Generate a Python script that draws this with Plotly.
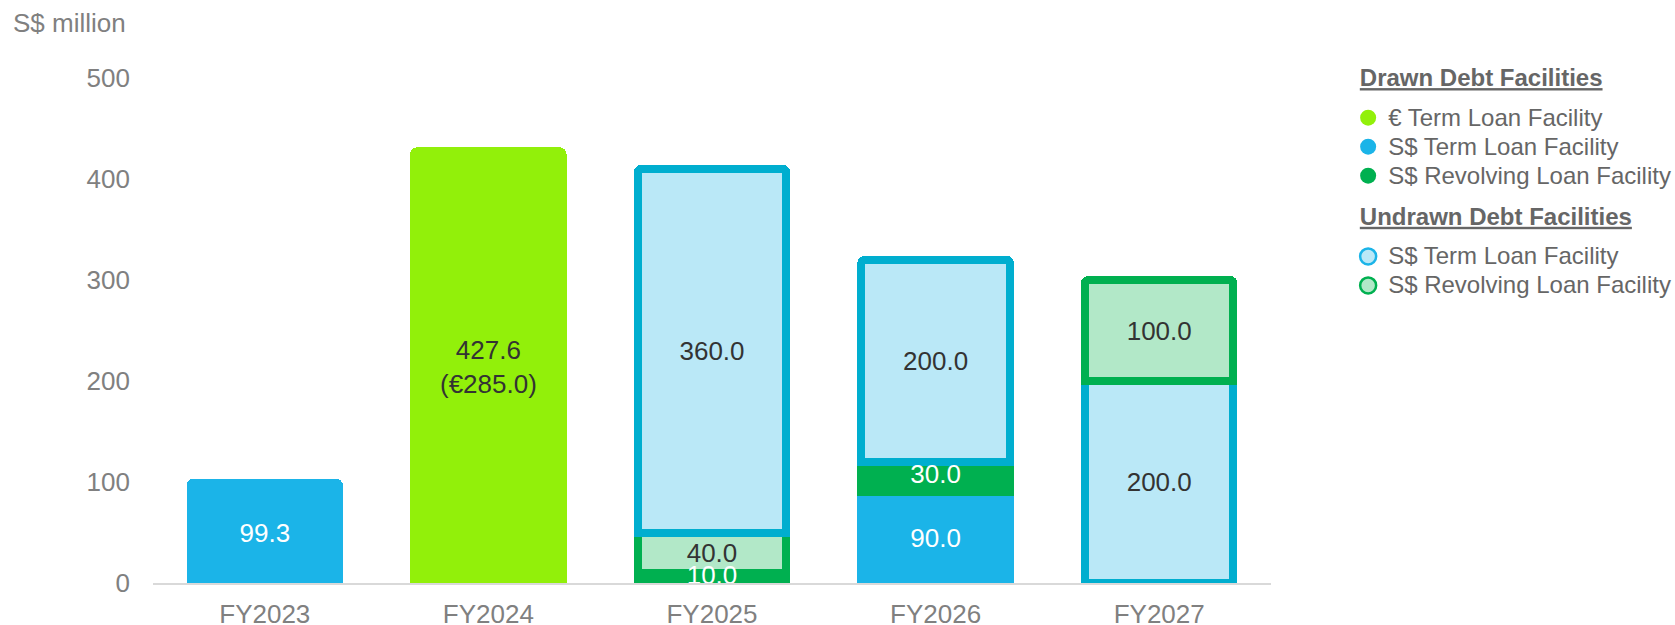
import plotly.graph_objects as go

categories = ["FY2023", "FY2024", "FY2025", "FY2026", "FY2027"]
drawn_eur_term = [None, 427.6, None, None, None]
eur_term_in_eur = [None, 285.0, None, None, None]
drawn_sgd_term = [99.3, None, None, 90.0, None]
drawn_sgd_rev = [None, None, 10.0, 30.0, None]
undrawn_sgd_term = [None, None, 360.0, 200.0, 200.0]
undrawn_sgd_rev = [None, None, 40.0, None, 100.0]
# undrawn revolving stacked below the undrawn term tranche in these years
rev_below_term_years = ["FY2025"]

FONT = "Liberation Sans, Arial, sans-serif"
C_EUR = "#92F00A"
C_SGD_TERM = "#1BB4E8"
C_REV = "#00B050"
C_UT_FILL = "#BAE8F7"
C_UT_LINE = "#00AECF"
C_UR_FILL = "#B2E8C8"
C_UR_LINE = "#00B050"
DARK = "#333333"
GREY = "#808080"
LEG = "#666666"

WO = 0.664
LW = 8


def fmt(v):
    return None if v is None else f"{v:.1f}"


def z(v):
    return 0 if v is None else v


fig = go.Figure()

eur_text = [None if v is None else f"{v:.1f}<br>(€{e:.1f})" for v, e in zip(drawn_eur_term, eur_term_in_eur)]

common = dict(textposition="inside", insidetextanchor="middle", constraintext="none",
              showlegend=False, hoverinfo="skip", cliponaxis=True)

fig.add_bar(x=categories, y=drawn_eur_term, text=eur_text, width=WO,
            marker=dict(color=C_EUR, line=dict(width=LW, color=C_EUR)),
            textfont=dict(color=DARK, size=26, family=FONT), **common)
fig.add_bar(x=categories, y=drawn_sgd_term, text=[fmt(v) for v in drawn_sgd_term], width=WO,
            marker=dict(color=C_SGD_TERM, line=dict(width=LW, color=C_SGD_TERM)),
            textfont=dict(color="white", size=26, family=FONT), **common)
fig.add_bar(x=categories, y=drawn_sgd_rev, width=WO,
            marker=dict(color=C_REV, line=dict(width=LW, color=C_REV)),
            showlegend=False, hoverinfo="skip")

rev_below = [v if c in rev_below_term_years else None for c, v in zip(categories, undrawn_sgd_rev)]
rev_above = [None if c in rev_below_term_years else v for c, v in zip(categories, undrawn_sgd_rev)]

fig.add_bar(x=categories, y=rev_below, text=[fmt(v) for v in rev_below], width=WO,
            marker=dict(color=C_UR_FILL, line=dict(width=LW, color=C_UR_LINE)),
            textfont=dict(color=DARK, size=26, family=FONT), **common)
fig.add_bar(x=categories, y=undrawn_sgd_term, text=[fmt(v) for v in undrawn_sgd_term], width=WO,
            marker=dict(color=C_UT_FILL, line=dict(width=LW, color=C_UT_LINE)),
            textfont=dict(color=DARK, size=26, family=FONT), **common)
fig.add_bar(x=categories, y=rev_above, text=[fmt(v) for v in rev_above], width=WO,
            marker=dict(color=C_UR_FILL, line=dict(width=LW, color=C_UR_LINE)),
            textfont=dict(color=DARK, size=26, family=FONT), **common)

# drawn revolving labels drawn on top of all bars (they overflow the thin bar)
rev_x, rev_y, rev_t = [], [], []
for c, e, t, r in zip(categories, drawn_eur_term, drawn_sgd_term, drawn_sgd_rev):
    if r is not None:
        rev_x.append(c)
        rev_y.append(z(e) + z(t) + r / 2)
        rev_t.append(fmt(r))
fig.add_scatter(x=rev_x, y=rev_y, text=rev_t, mode="text", textposition="middle center",
                textfont=dict(color="white", size=26, family=FONT), cliponaxis=True,
                showlegend=False, hoverinfo="skip")


# legend entries (declared font sizes differ from rendered to tune row spacing)
def ltxt(s):
    return f'<span style="font-size:24px">{s}</span>'


def gtxt(s):
    return f'<span style="font-size:24px">\u00a0<b><u>{s}</u></b></span>'


legend_items = [
    ("legend", "Drawn Debt Facilities", "€ Term Loan Facility", C_EUR, C_EUR, 0),
    ("legend", "Drawn Debt Facilities", "S$ Term Loan Facility", C_SGD_TERM, C_SGD_TERM, 0),
    ("legend", "Drawn Debt Facilities", "S$ Revolving Loan Facility", C_REV, C_REV, 0),
    ("legend2", "Undrawn Debt Facilities", "S$ Term Loan Facility", C_UT_FILL, "#1BB4E8", 2.5),
    ("legend2", "Undrawn Debt Facilities", "S$ Revolving Loan Facility", C_UR_FILL, C_UR_LINE, 2.5),
]
for leg, gtitle, name, fill, line, lw in legend_items:
    fig.add_scatter(x=[None], y=[None], mode="markers", name=ltxt(name), legend=leg,
                    legendgroup=leg,
                    legendgrouptitle=dict(text=gtxt(gtitle), font=dict(size=60, color=LEG, family=FONT)),
                    marker=dict(symbol="circle", size=16, color=fill, line=dict(width=lw, color=line)),
                    hoverinfo="skip")

leg_common = dict(x=1.069, xanchor="left", yanchor="top",
                  font=dict(size=20, color=LEG, family=FONT),
                  traceorder="grouped", itemwidth=30, bgcolor="rgba(0,0,0,0)")

fig.update_layout(
    barmode="stack",
    width=1675, height=625,
    margin=dict(l=153, r=404, t=58, b=42, autoexpand=False),
    plot_bgcolor="white", paper_bgcolor="white",
    font=dict(family=FONT, color=GREY, size=26),
    barcornerradius=3,
    legend=dict(y=1.0777, **leg_common),
    legend2=dict(y=0.8135, **leg_common),
    annotations=[dict(text="S$ million", xref="paper", yref="paper", x=-0.127, y=1.067,
                      xanchor="left", yanchor="middle", showarrow=False,
                      font=dict(size=26, color=GREY, family=FONT))],
)
fig.update_xaxes(showline=True, linecolor="#D9D9D9", linewidth=2, showgrid=False,
                 ticks="", tickfont=dict(size=26, color=GREY), ticklabelstandoff=7)
fig.update_yaxes(range=[0, 520], tickvals=[0, 100, 200, 300, 400, 500], showgrid=False,
                 zeroline=False, showline=False, ticks="", tickfont=dict(size=26, color=GREY),
                 ticklabelstandoff=22)

fig.write_html("out.html")
